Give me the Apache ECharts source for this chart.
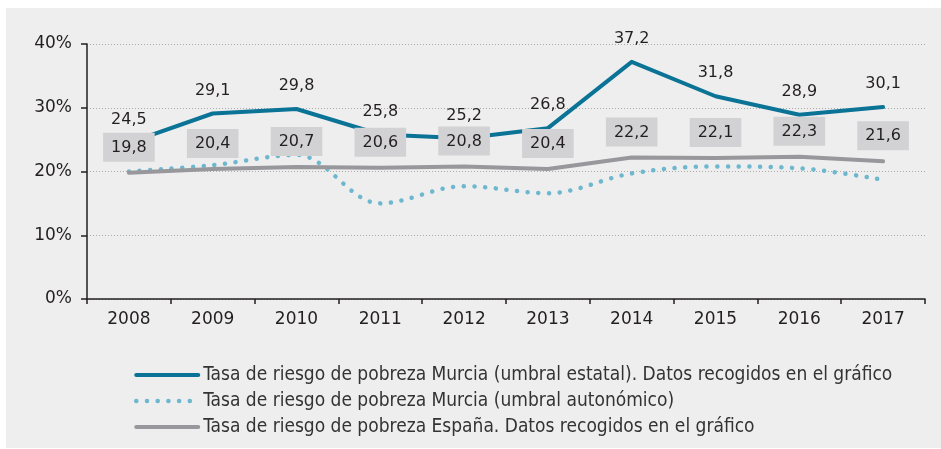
<!DOCTYPE html>
<html>
<head>
<meta charset="utf-8">
<script src="https://cdn.jsdelivr.net/npm/echarts@6/dist/echarts.min.js"></script>
<style>
	html, body { margin:0; padding:0; background:#ffffff; }
	#panel { position:absolute; left:6px; top:8px; width:935px; height:440px; background:#eeeeee; }
	#chart { position:absolute; left:0; top:0; width:941px; height:449px; }
</style>
</head>
<body>
<div id="panel"></div>
<div id="chart"></div>
<script>
// años
var years = ['2008','2009','2010','2011','2012','2013','2014','2015','2016','2017'];
// Murcia umbral estatal
var murciaEstatal = [24.5, 29.1, 29.8, 25.8, 25.2, 26.8, 37.2, 31.8, 28.9, 30.1];
// Murcia umbral autonómico (sin etiquetas)
var murciaAutonomico = [20.0, 21.0, 22.6, 15.0, 17.7, 16.6, 19.7, 20.8, 20.5, 18.7];
// España
var espana = [19.8, 20.4, 20.7, 20.6, 20.8, 20.4, 22.2, 22.1, 22.3, 21.6];
// nombres de la leyenda
var seriesNames = [
	'Tasa de riesgo de pobreza Murcia (umbral estatal). Datos recogidos en el gráfico',
	'Tasa de riesgo de pobreza Murcia (umbral autonómico)',
	'Tasa de riesgo de pobreza España. Datos recogidos en el gráfico'
];

var textColor = '#231f20';
var numFont = 'DejaVu Sans';

//formato con coma decimal
function fmtComma(p){
	return p.value.toFixed(1).replace('.', ',');
}

var chart = echarts.init(document.getElementById('chart'));
var option = {
	backgroundColor: 'transparent',
	animation: false,
	grid: { left: 87, right: 16, top: 44, bottom: 150 },
	legend: {
		orient: 'vertical',
		left: 129,
		top: 359,
		itemWidth: 62,
		itemHeight: 14,
		itemGap: 4,
		itemStyle: { opacity: 0 },
		lineStyle: { width: 'inherit', cap: 'round' },
		textStyle: {
			fontFamily: 'DejaVu Sans Condensed',
			fontSize: 19,
			color: '#333333',
			lineHeight: 22
		},
		data: seriesNames
	},
	xAxis: {
		type: 'category',
		data: years,
		boundaryGap: true,
		axisLine: { lineStyle: { color: textColor, width: 1.5 } },
		axisTick: { show: true, length: 5, lineStyle: { color: textColor, width: 1.5 } },
		axisLabel: { color: textColor, fontFamily: numFont, fontSize: 17, margin: 12 },
		splitLine: { show: false }
	},
	yAxis: {
		type: 'value',
		min: 0,
		max: 40,
		interval: 10,
		axisLine: { show: true, lineStyle: { color: textColor, width: 1.5 } },
		axisTick: { show: true, length: 6, lineStyle: { color: textColor, width: 1.5 } },
		axisLabel: { color: textColor, fontFamily: numFont, fontSize: 17, margin: 15, formatter: '{value}%' },
		splitLine: { show: true, lineStyle: { color: '#aaaaaa', width: 1, type: [1, 2] } }
	},
	series: [
		{
			name: seriesNames[0],
			type: 'line',
			data: murciaEstatal,
			symbol: 'circle',
			symbolSize: 0,
			z: 3,
			lineStyle: { color: '#0a7396', width: 4, cap: 'round', join: 'round' },
			itemStyle: { color: '#0a7396' },
			label: {
				show: true,
				position: 'top',
				distance: 15,
				color: textColor,
				fontFamily: numFont,
				fontSize: 16,
				formatter: fmtComma
			}
		},
		{
			name: seriesNames[1],
			type: 'line',
			data: murciaAutonomico,
			symbol: 'none',
			smooth: 0.35,
			z: 2,
			lineStyle: { color: '#6db7cf', width: 4.5, type: [0.1, 10.6], cap: 'round' },
			itemStyle: { color: '#6db7cf' }
		},
		{
			name: seriesNames[2],
			type: 'line',
			data: espana,
			symbol: 'circle',
			symbolSize: 0,
			z: 4,
			lineStyle: { color: '#98989c', width: 4, cap: 'round', join: 'round' },
			itemStyle: { color: '#98989c' },
			label: {
				show: true,
				position: 'top',
				distance: 11,
				color: textColor,
				fontFamily: numFont,
				fontSize: 16,
				backgroundColor: '#d2d2d4',
				padding: [7, 8, 6, 8],
				formatter: fmtComma
			}
		}
	]
};
chart.setOption(option);
</script>
</body>
</html>
